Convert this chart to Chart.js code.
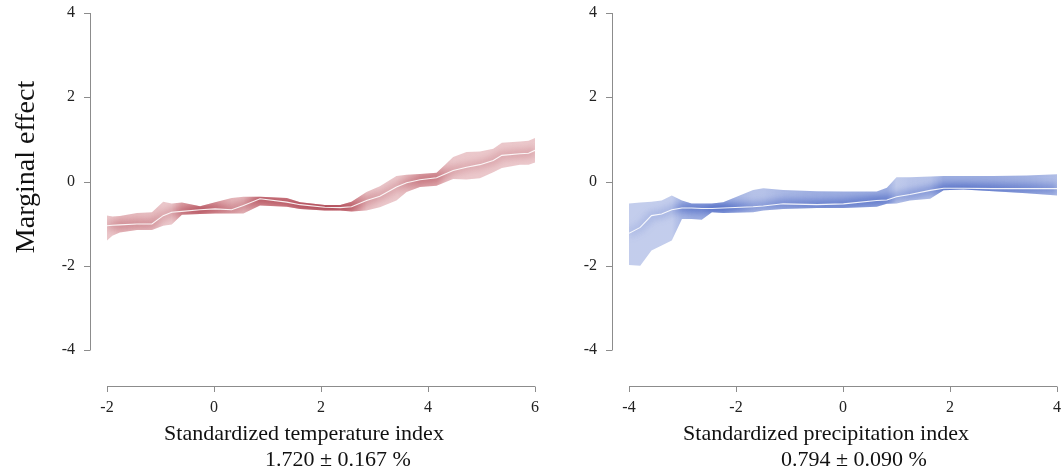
<!DOCTYPE html>
<html>
<head>
<meta charset="utf-8">
<script src="https://cdn.jsdelivr.net/npm/chart.js@4"></script>
<style>
  html, body { margin: 0; padding: 0; background: #fff; }
  #wrap { position: relative; width: 1062px; height: 473px; }
  #left { position: absolute; left: 0; top: 0; }
  #right { position: absolute; left: 540px; top: 0; }
</style>
</head>
<body>
<div id="wrap">
  <canvas id="left" width="540" height="473"></canvas>
  <canvas id="right" width="522" height="473"></canvas>
</div>
<script>
// temperature panel
const tempX = [-2.0, -1.9, -1.76, -1.44, -1.16, -0.95, -0.79, -0.6, -0.26, 0.02, 0.33, 0.55, 0.86, 1.36, 1.61, 2.07, 2.36, 2.57, 2.85, 3.1, 3.41, 3.6, 3.85, 4.16, 4.32, 4.47, 4.72, 4.97, 5.22, 5.38, 5.72, 5.88, 6.0];
const tempUpper = [-0.81, -0.83, -0.82, -0.75, -0.73, -0.48, -0.52, -0.50, -0.59, -0.49, -0.39, -0.36, -0.36, -0.39, -0.49, -0.56, -0.56, -0.48, -0.25, -0.11, 0.13, 0.16, 0.18, 0.21, 0.40, 0.58, 0.70, 0.71, 0.78, 0.92, 0.95, 0.97, 1.03];
const tempMid = [-1.05, -1.04, -1.03, -1.01, -1.01, -0.81, -0.73, -0.71, -0.67, -0.65, -0.67, -0.57, -0.41, -0.49, -0.55, -0.61, -0.62, -0.60, -0.45, -0.35, -0.13, -0.03, 0.04, 0.09, 0.18, 0.26, 0.34, 0.40, 0.50, 0.62, 0.66, 0.67, 0.74];
const tempLower = [-1.40, -1.29, -1.21, -1.15, -1.15, -1.05, -1.02, -0.79, -0.77, -0.76, -0.76, -0.76, -0.57, -0.60, -0.65, -0.69, -0.69, -0.71, -0.69, -0.61, -0.45, -0.25, -0.13, -0.10, -0.02, 0.06, 0.05, 0.08, 0.22, 0.32, 0.40, 0.40, 0.45];

// precipitation panel
const precX = [-4.0, -3.79, -3.58, -3.39, -3.2, -3.01, -2.83, -2.64, -2.45, -2.24, -1.68, -1.49, -1.12, -0.49, 0.01, 0.63, 0.82, 1.0, 1.25, 1.63, 1.88, 2.25, 2.81, 3.43, 4.0];
const precUpper = [-0.52, -0.50, -0.48, -0.45, -0.33, -0.45, -0.52, -0.52, -0.52, -0.49, -0.20, -0.16, -0.20, -0.23, -0.24, -0.24, -0.15, 0.10, 0.10, 0.12, 0.13, 0.13, 0.13, 0.14, 0.17];
const precMid = [-1.23, -1.09, -0.81, -0.77, -0.67, -0.63, -0.63, -0.64, -0.64, -0.63, -0.60, -0.58, -0.53, -0.55, -0.53, -0.45, -0.44, -0.36, -0.31, -0.21, -0.16, -0.16, -0.17, -0.17, -0.17];
const precLower = [-1.98, -2.00, -1.64, -1.52, -1.40, -0.89, -0.89, -0.91, -0.73, -0.75, -0.73, -0.69, -0.65, -0.63, -0.63, -0.60, -0.53, -0.52, -0.45, -0.41, -0.21, -0.19, -0.23, -0.28, -0.33];

const yTicks = [-4, -2, 0, 2, 4];
const tempTicks = [-2, 0, 2, 4, 6];
const precTicks = [-4, -2, 0, 2, 4];

const serif = "'Liberation Serif', 'Times New Roman', serif";
const axisGrey = '#8c8c8c';

const pts = (xs, ys) => xs.map((x, i) => ({ x, y: ys[i] }));
const clamp = (v, a, b) => Math.max(a, Math.min(b, v));

// horizontal gradient: narrower band -> stronger colour
function widthGradient(xs, lower, upper, rgb, k, lo, hi) {
  return ctx => {
    const chart = ctx.chart;
    if (!chart.chartArea) return `rgba(${rgb},${lo})`;
    const sx = chart.scales.x;
    const x0 = sx.getPixelForValue(xs[0]);
    const x1 = sx.getPixelForValue(xs[xs.length - 1]);
    const g = chart.ctx.createLinearGradient(x0, 0, x1, 0);
    xs.forEach((x, i) => {
      const a = clamp(k / (upper[i] - lower[i]), lo, hi);
      g.addColorStop((sx.getPixelForValue(x) - x0) / (x1 - x0), `rgba(${rgb},${a.toFixed(3)})`);
    });
    return g;
  };
}

// clip the soft core of the band to the band itself
const bandClip = {
  id: 'bandClip',
  beforeDatasetDraw(chart, args) {
    const ds = chart.data.datasets[args.index];
    if (!ds.core) return;
    const lo = chart.getDatasetMeta(0).data;
    const up = chart.getDatasetMeta(1).data;
    const ctx = chart.ctx;
    ctx.save();
    ctx.beginPath();
    up.forEach((p, i) => i ? ctx.lineTo(p.x, p.y) : ctx.moveTo(p.x, p.y));
    for (let i = lo.length - 1; i >= 0; i--) ctx.lineTo(lo[i].x, lo[i].y);
    ctx.closePath();
    ctx.clip();
    ctx.filter = 'blur(3px)';
  },
  afterDatasetDraw(chart, args) {
    if (chart.data.datasets[args.index].core) chart.ctx.restore();
  }
};

// R style detached axes and titles
const rAxes = {
  id: 'rAxes',
  afterDraw(chart, args, opts) {
    const ctx = chart.ctx;
    const xs = chart.scales.x, ys = chart.scales.y;
    const ax = chart.chartArea.left - 17;
    const ay = chart.chartArea.bottom + 36;
    ctx.save();
    ctx.strokeStyle = axisGrey;
    ctx.lineWidth = 1;
    ctx.beginPath();
    ctx.moveTo(ax + 0.5, ys.getPixelForValue(yTicks[0]));
    ctx.lineTo(ax + 0.5, ys.getPixelForValue(yTicks[yTicks.length - 1]));
    yTicks.forEach(v => {
      const py = Math.round(ys.getPixelForValue(v)) + 0.5;
      ctx.moveTo(ax + 0.5, py);
      ctx.lineTo(ax - 6, py);
    });
    ctx.moveTo(xs.getPixelForValue(opts.ticks[0]), ay + 0.5);
    ctx.lineTo(xs.getPixelForValue(opts.ticks[opts.ticks.length - 1]), ay + 0.5);
    opts.ticks.forEach(v => {
      const px = Math.round(xs.getPixelForValue(v)) + 0.5;
      ctx.moveTo(px, ay + 0.5);
      ctx.lineTo(px, ay + 6);
    });
    ctx.stroke();

    ctx.fillStyle = '#111';
    ctx.textAlign = 'center';
    ctx.textBaseline = 'alphabetic';
    ctx.font = '22px ' + serif;
    ctx.fillText(opts.title, opts.titleX, 440);
    ctx.fillText(opts.sub, opts.subX, 466);
    if (opts.yTitle) {
      ctx.font = '28px ' + serif;
      ctx.translate(34, 167);
      ctx.rotate(-Math.PI / 2);
      ctx.fillText(opts.yTitle, 0, 0);
    }
    ctx.restore();
  }
};

function makePanel(id, xs, lower, mid, upper, xMin, xMax, xTicks, c, padL, padR, axesOpts) {
  new Chart(document.getElementById(id), {
    type: 'line',
    data: {
      datasets: [
        { data: pts(xs, lower), borderWidth: 0, pointRadius: 0, fill: false, order: 4 },
        {
          data: pts(xs, upper), borderWidth: 0, pointRadius: 0, fill: '-1', order: 3,
          backgroundColor: widthGradient(xs, lower, upper, c.band, c.kb, c.bandLo, c.bandHi)
        },
        {
          data: pts(xs, mid), pointRadius: 0, fill: false, borderWidth: 10, core: true, order: 2,
          borderColor: widthGradient(xs, lower, upper, c.core, c.kc, c.coreLo, c.coreHi)
        },
        { data: pts(xs, mid), pointRadius: 0, fill: false, borderWidth: 1.1, borderColor: 'rgba(255,255,255,0.9)', order: 1 }
      ]
    },
    options: {
      responsive: false,
      animation: false,
      layout: { padding: { left: padL, right: padR, top: 13, bottom: 0 } },
      plugins: { legend: { display: false }, tooltip: { enabled: false }, rAxes: axesOpts },
      scales: {
        x: {
          type: 'linear', min: xMin, max: xMax,
          afterFit: s => { s.height = 123; s.paddingLeft = 0; s.paddingRight = 0; },
          grid: { display: false, drawTicks: false },
          border: { display: false },
          afterBuildTicks: s => { s.ticks = xTicks.map(v => ({ value: v })); },
          ticks: { font: { family: serif, size: 16 }, color: '#222', padding: 48, maxRotation: 0 }
        },
        y: {
          min: -4, max: 4,
          afterFit: s => { s.width = 89; s.paddingTop = 0; s.paddingBottom = 0; },
          grid: { display: false, drawTicks: false },
          border: { display: false },
          afterBuildTicks: s => { s.ticks = yTicks.map(v => ({ value: v })); },
          ticks: { font: { family: serif, size: 16 }, color: '#222', padding: 32 }
        }
      }
    },
    plugins: [bandClip, rAxes]
  });
}

makePanel('left', tempX, tempLower, tempMid, tempUpper, -2, 6, tempTicks,
  { band: '205,118,126', kb: 0.2, bandLo: 0.4, bandHi: 0.8,
    core: '170,64,78', kc: 0.13, coreLo: 0.2, coreHi: 0.85 }, 18, 5,
  { ticks: tempTicks, title: 'Standardized temperature index', titleX: 304,
    sub: '1.720 \u00b1 0.167 %', subX: 338, yTitle: 'Marginal effect' });

makePanel('right', precX, precLower, precMid, precUpper, -4, 4, precTicks,
  { band: '105,130,208', kb: 0.26, bandLo: 0.4, bandHi: 0.66,
    core: '60,90,190', kc: 0.2, coreLo: 0.1, coreHi: 0.7 }, 0, 5,
  { ticks: precTicks, title: 'Standardized precipitation index', titleX: 286,
    sub: '0.794 \u00b1 0.090 %', subX: 314 });
</script>
</body>
</html>
